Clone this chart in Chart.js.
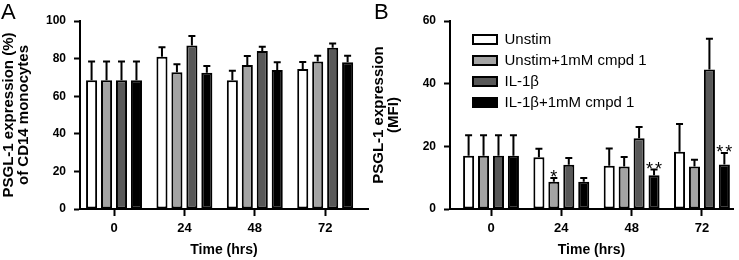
<!DOCTYPE html>
<html>
<head>
<meta charset="utf-8">
<script src="https://cdn.jsdelivr.net/npm/chart.js@4.4.0/dist/chart.umd.min.js"></script>
<style>
  body { margin: 0; background: #fff; }
  #wrap { position: relative; width: 739px; height: 260px; font-family: "Liberation Sans", Arial, sans-serif; }
  .panel { position: absolute; top: 0; height: 260px; }
  .letter { position: absolute; top: 1px; font-size: 22px; line-height: 22px; color: #000; }
</style>
</head>
<body>
<div id="wrap">
  <div class="panel" style="left:0;width:370px"><canvas id="chartA" width="370" height="260"></canvas></div>
  <div class="panel" style="left:370px;width:369px"><canvas id="chartB" width="369" height="260"></canvas></div>
  <div class="letter" style="left:1px">A</div>
  <div class="letter" style="left:374px">B</div>
</div>
<script>
// time points (hrs)
const times = [0, 24, 48, 72];
const seriesNames = ['Unstim', 'Unstim+1mM cmpd 1', 'IL-1β', 'IL-1β+1mM cmpd 1'];
const seriesColors = ['#ffffff', '#a3a3a3', '#585858', '#000000'];

// Panel A: PSGL-1 expression (%) of CD14 monocytes
const pctUnstim = [68.5, 81, 68.5, 74.5];
const pctUnstimCmpd = [68.5, 72.7, 76.6, 78.4];
const pctIL1b = [68.5, 87, 84, 85.8];
const pctIL1bCmpd = [68.5, 72.5, 74, 78];
// upper error (SEM)
const pctUnstimErr = [10, 5, 5, 3.7];
const pctUnstimCmpdErr = [10, 4.3, 4.8, 3.1];
const pctIL1bErr = [10, 5, 2.3, 2.2];
const pctIL1bCmpdErr = [10, 3.5, 4, 3.5];
const pctTicks = [0, 20, 40, 60, 80, 100];

// Panel B: PSGL-1 expression (MFI)
const mfiUnstim = [17, 16.5, 13.8, 18.3];
const mfiUnstimCmpd = [17, 8.7, 13.6, 13.6];
const mfiIL1b = [17, 14.1, 22.6, 44.5];
const mfiIL1bCmpd = [17, 8.7, 10.8, 14.2];
const mfiUnstimErr = [6.5, 2.7, 5.5, 8.8];
const mfiUnstimCmpdErr = [6.5, 1.2, 3, 2.1];
const mfiIL1bErr = [6.5, 2.2, 3.6, 9.8];
const mfiIL1bCmpdErr = [6.5, 1.2, 1.8, 3.7];
const mfiTicks = [0, 20, 40, 60];
// significance marks
const mfiUnstimCmpdStars = ['', '*', '', ''];
const mfiIL1bCmpdStars = ['', '', '**', '**'];

Chart.defaults.font.family = "'Liberation Sans', Arial, sans-serif";
Chart.defaults.color = '#000';

// draws the upper error bars and the asterisks
const errorBars = {
    id: 'errorBars',
    afterDatasetsDraw(chart) {
        const ctx = chart.ctx;
        const yScale = chart.scales.y;
        ctx.save();
        ctx.strokeStyle = '#000';
        ctx.lineWidth = 2;
        ctx.fillStyle = '#000';
        chart.data.datasets.forEach(function (ds, i) {
            const meta = chart.getDatasetMeta(i);
            meta.data.forEach(function (bar, j) {
                const top = yScale.getPixelForValue(ds.data[j].y + ds.errors[j]);
                ctx.beginPath();
                ctx.moveTo(bar.x, bar.y);
                ctx.lineTo(bar.x, top);
                ctx.moveTo(bar.x - 3.5, top);
                ctx.lineTo(bar.x + 3.5, top);
                ctx.stroke();
                if (ds.stars && ds.stars[j]) {
                    ctx.font = "18px 'Liberation Sans', Arial, sans-serif";
                    ctx.textAlign = 'center';
                    ctx.textBaseline = 'alphabetic';
                    ctx.letterSpacing = '2px';
                    ctx.fillText(ds.stars[j], bar.x + 1, top + 5);
                }
            });
        });
        ctx.restore();
    }
};

// move the legend inside the plot area, top-left
const legendShift = {
    id: 'legendShift',
    afterLayout(chart) {
        const lg = chart.legend;
        if (!lg || !lg.options.display) return;
        const h = lg.bottom - lg.top;
        lg.left = chart.chartArea.left + 17;
        lg.top = chart.chartArea.top + 5;
        lg.bottom = lg.top + h;
    }
};

function buildDatasets(values, errors, stars) {
    return seriesNames.map(function (name, i) {
        return {
            label: name,
            data: times.map(function (t, j) { return { x: t, y: values[i][j] }; }),
            errors: errors[i],
            stars: stars ? stars[i] : null,
            backgroundColor: seriesColors[i],
            borderColor: '#000',
            borderWidth: 2,
            borderSkipped: false,
            categoryPercentage: 0.85,
            barPercentage: 0.74
        };
    });
}

function makeChart(id, opts) {
    return new Chart(document.getElementById(id), {
        type: 'bar',
        data: { datasets: buildDatasets(opts.values, opts.errors, opts.stars) },
        options: {
            responsive: false,
            animation: false,
            layout: { padding: { top: 21, right: opts.padRight, bottom: 0, left: 0 } },
            plugins: {
                tooltip: { enabled: false },
                legend: opts.legend ? {
                    display: true,
                    position: 'chartArea',
                    align: 'start',
                    labels: { color: '#000', font: { size: 15 }, boxWidth: 24, boxHeight: 9, padding: 6 }
                } : { display: false }
            },
            scales: {
                x: {
                    type: 'linear',
                    offset: false,
                    min: opts.xMin,
                    max: opts.xMax,
                    afterBuildTicks: function (s) { s.ticks = times.map(function (v) { return { value: v }; }); },
                    ticks: { color: '#000', font: { size: 13, weight: 'bold' }, padding: 5, maxRotation: 0 },
                    grid: { offset: false, drawOnChartArea: false, tickLength: 7, tickWidth: 2, tickColor: '#000' },
                    border: { color: '#000', width: 2 },
                    title: { display: true, text: 'Time (hrs)', color: '#000', font: { size: 14, weight: 'bold' }, padding: { top: 0, bottom: 1 } },
                    afterFit: function (s) { s.height = 51; }
                },
                y: {
                    min: 0,
                    max: opts.yTicks[opts.yTicks.length - 1],
                    afterBuildTicks: function (s) { s.ticks = opts.yTicks.map(function (v) { return { value: v }; }); },
                    ticks: { color: '#000', font: { size: 12, weight: 'bold' }, padding: 8 },
                    grid: { drawOnChartArea: false, tickLength: 6, tickWidth: 2, tickColor: '#000' },
                    border: { color: '#000', width: 2 },
                    title: { display: true, text: opts.yTitle, color: '#000', font: { size: 15, weight: 'bold', lineHeight: 1.0 }, padding: { top: 1, bottom: 0 } },
                    afterFit: function (s) { s.width = 80; }
                }
            }
        },
        plugins: [errorBars, legendShift]
    });
}

makeChart('chartA', {
    values: [pctUnstim, pctUnstimCmpd, pctIL1b, pctIL1bCmpd],
    errors: [pctUnstimErr, pctUnstimCmpdErr, pctIL1bErr, pctIL1bCmpdErr],
    stars: null,
    yTicks: pctTicks,
    yTitle: ['PSGL-1 expression (%)', 'of CD14 monocytes'],
    xMin: -11.6, xMax: 86.6, padRight: 2, legend: false
});

makeChart('chartB', {
    values: [mfiUnstim, mfiUnstimCmpd, mfiIL1b, mfiIL1bCmpd],
    errors: [mfiUnstimErr, mfiUnstimCmpdErr, mfiIL1bErr, mfiIL1bCmpdErr],
    stars: [null, mfiUnstimCmpdStars, null, mfiIL1bCmpdStars],
    yTicks: mfiTicks,
    yTitle: ['PSGL-1 expression', '(MFI)'],
    xMin: -14, xMax: 82.6, padRight: 6, legend: true
});
</script>
</body>
</html>
